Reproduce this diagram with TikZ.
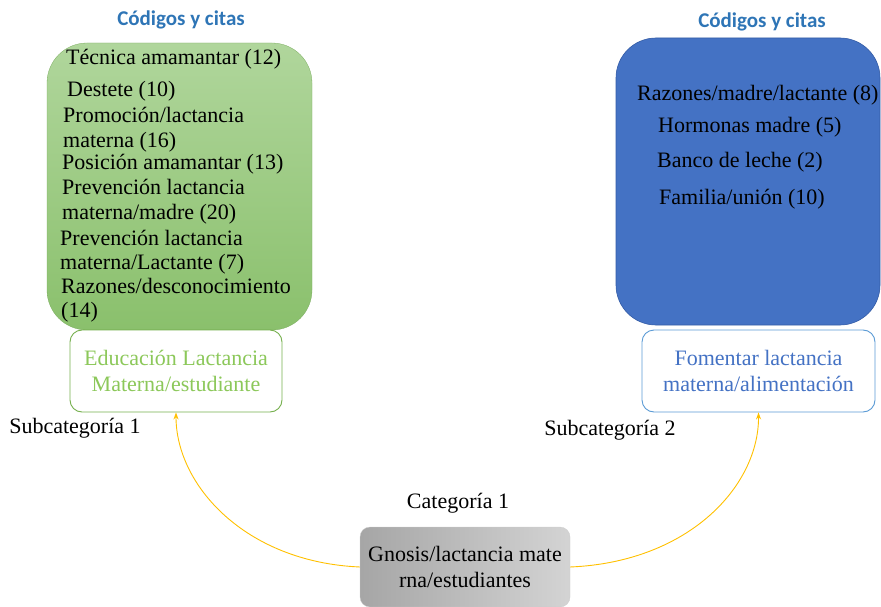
\documentclass[tikz,border=0pt]{standalone}
\usepackage{fontspec}
\setmainfont{Liberation Serif}
\newfontfamily\bodyfont{Liberation Serif}
\newfontfamily\titlefont{Carlito}
\usetikzlibrary{arrows.meta}
\definecolor{titleblue}{RGB}{46,117,182}
\definecolor{gtop}{RGB}{176,214,156}
\definecolor{gbot}{RGB}{138,192,108}
\definecolor{boxblue}{RGB}{68,114,196}
\definecolor{boxblueedge}{RGB}{52,92,166}
\definecolor{edugreen}{RGB}{118,176,78}
\definecolor{edutext}{RGB}{140,200,90}
\definecolor{lightblue}{RGB}{91,155,213}
\definecolor{arrowyellow}{RGB}{255,192,0}
\tikzset{
  body/.style={font=\bodyfont\fontsize{22}{26}\selectfont, inner sep=0pt},
  item/.style={body, anchor=west, text=black},
  ttl/.style={font=\titlefont\bfseries\fontsize{21}{24}\selectfont, text=titleblue, inner sep=0pt},
  bigbox/.style={rounded corners=40pt, minimum width=#1, minimum height=287pt, inner sep=0pt},
  subbox/.style={draw, fill=white, rounded corners=12pt, minimum height=82pt, line width=0.9pt, align=center, body},
  link/.style={draw=arrowyellow, line width=0.9pt, -{Stealth[length=7pt,width=5pt]}}
}
\begin{document}
\begin{tikzpicture}[x=1pt,y=-1pt]
\useasboundingbox (0,0) rectangle (881,607);
\clip (0,0) rectangle (881,607);
% titles
\node[ttl] (tl) at (181,20) {Códigos y citas};
\node[ttl] (tr) at (762,22) {Códigos y citas};
% big boxes
\node[bigbox=265pt, top color=gtop, bottom color=gbot, draw=gbot!90!black, line width=0.3pt] (gbox) at (179.5,186.5) {};
\node[bigbox=264pt, fill=boxblue, draw=boxblueedge, line width=0.6pt] (bbox) at (748,181.5) {};
% green list
\node[item] (g1) at (66,59) {Técnica amamantar (12)};
\node[item] (g2) at (67,91) {Destete (10)};
\node[item] (g3) at (63,115) {Promoción/lactancia};
\node[item] (g4) at (63,142) {materna (16)};
\node[item] (g5) at (62,164) {Posición amamantar (13)};
\node[item] (g6) at (62,187) {Prevención lactancia};
\node[item] (g7) at (62,214) {materna/madre (20)};
\node[item] (g8) at (60,238) {Prevención lactancia};
\node[item] (g9) at (60,264) {materna/Lactante (7)};
\node[item] (g10) at (61,286) {Razones/desconocimiento};
\node[item] (g11) at (61,312) {(14)};
% blue list
\node[item] (r1) at (637,95) {Razones/madre/lactante (8)};
\node[item] (r2) at (658,127) {Hormonas madre (5)};
\node[item] (r3) at (657,162) {Banco de leche (2)};
\node[item] (r4) at (659,199) {Familia/unión (10)};
% subcategory boxes
\node[subbox, draw=edugreen, text=edutext, minimum width=212pt] (edu) at (176,371) {Educación Lactancia\\Materna/estudiante};
\node[subbox, draw=lightblue, text=boxblue, minimum width=233pt] (fom) at (758.5,371) {Fomentar lactancia\\materna/alimentación};
% labels
\node[body] (sub1) at (75,428) {Subcategoría 1};
\node[body] (sub2) at (610,430) {Subcategoría 2};
\node[body] (cat) at (458,503) {Categoría 1};
% category box
\node[body, align=center, rounded corners=10pt, minimum width=210pt, minimum height=80pt, left color=black!35, right color=black!17, draw=black!20, line width=0.3pt] (gn) at (465,567) {Gnosis/lactancia mate\\rna/estudiantes};
% connectors
\draw[link] (gn.west) .. controls (245,562) and (176,485) .. (edu.south);
\draw[link] (gn.east) .. controls (690,562) and (759,485) .. (fom.south);
\end{tikzpicture}
\end{document}
